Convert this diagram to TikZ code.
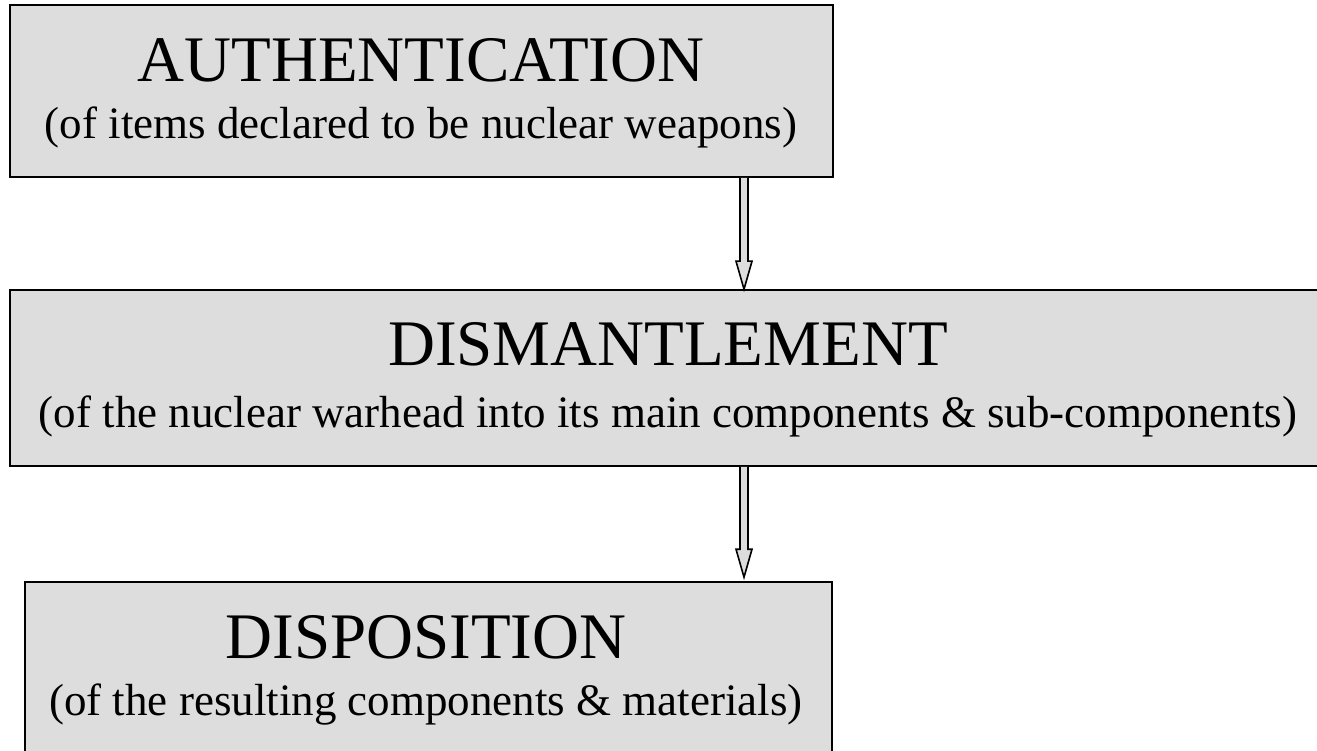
\documentclass[tikz,border=0pt]{standalone}
\usepackage{fontspec}
\setmainfont{Liberation Serif}
\usetikzlibrary{calc}
\definecolor{boxgray}{RGB}{221,221,221}
\tikzset{
  box/.style={draw=black, fill=boxgray, line width=1.6pt, inner sep=0pt, rectangle},
  titletext/.style={font=\fontsize{65}{70}\selectfont, anchor=base, inner sep=0pt},
  subtext/.style={font=\fontsize{45}{50}\selectfont, anchor=base, inner sep=0pt},
  hollowarrow/.style={draw=black, fill=boxgray, line width=1.6pt, line join=miter}
}
\begin{document}
\begin{tikzpicture}[x=1pt,y=-1pt]
\useasboundingbox (0,0) rectangle (1317,751);
\clip (0,0) rectangle (1317,751);
\fill[white] (0,0) rectangle (1317,751);
% boxes
\node[box, minimum width=823pt, minimum height=172pt] (b1) at (421.5,91) {};
\node[box, minimum width=1320pt, minimum height=176pt] (b2) at (670,378) {};
\node[box, minimum width=807pt, minimum height=178pt] (b3) at (428.5,671) {};
% texts
\node[titletext] (t1) at (421,82) {AUTHENTICATION};
\node[subtext] (s1) at (421,139) {(of items declared to be nuclear weapons)};
\node[titletext] (t2) at (668,365) {DISMANTLEMENT};
\node[subtext] (s2) at (668,427) {(of the nuclear warhead into its main components \& sub-components)};
\node[titletext] (t3) at (426,658) {DISPOSITION};
\node[subtext] (s3) at (426,715) {(of the resulting components \& materials)};
% arrows
\coordinate (ax) at (744,0);
\draw[hollowarrow] ($(b1.south -| ax)+(-4,0)$) -- ($(b2.north -| ax)+(-4,-28)$) -- ($(b2.north -| ax)+(-8,-28)$) -- (b2.north -| ax) -- ($(b2.north -| ax)+(8,-28)$) -- ($(b2.north -| ax)+(4,-28)$) -- ($(b1.south -| ax)+(4,0)$);
\draw[hollowarrow] ($(b2.south -| ax)+(-4,0)$) -- ($(b3.north -| ax)+(-4,-32)$) -- ($(b3.north -| ax)+(-8,-32)$) -- ($(b3.north -| ax)+(0,-4)$) -- ($(b3.north -| ax)+(8,-32)$) -- ($(b3.north -| ax)+(4,-32)$) -- ($(b2.south -| ax)+(4,0)$);
\end{tikzpicture}
\end{document}
